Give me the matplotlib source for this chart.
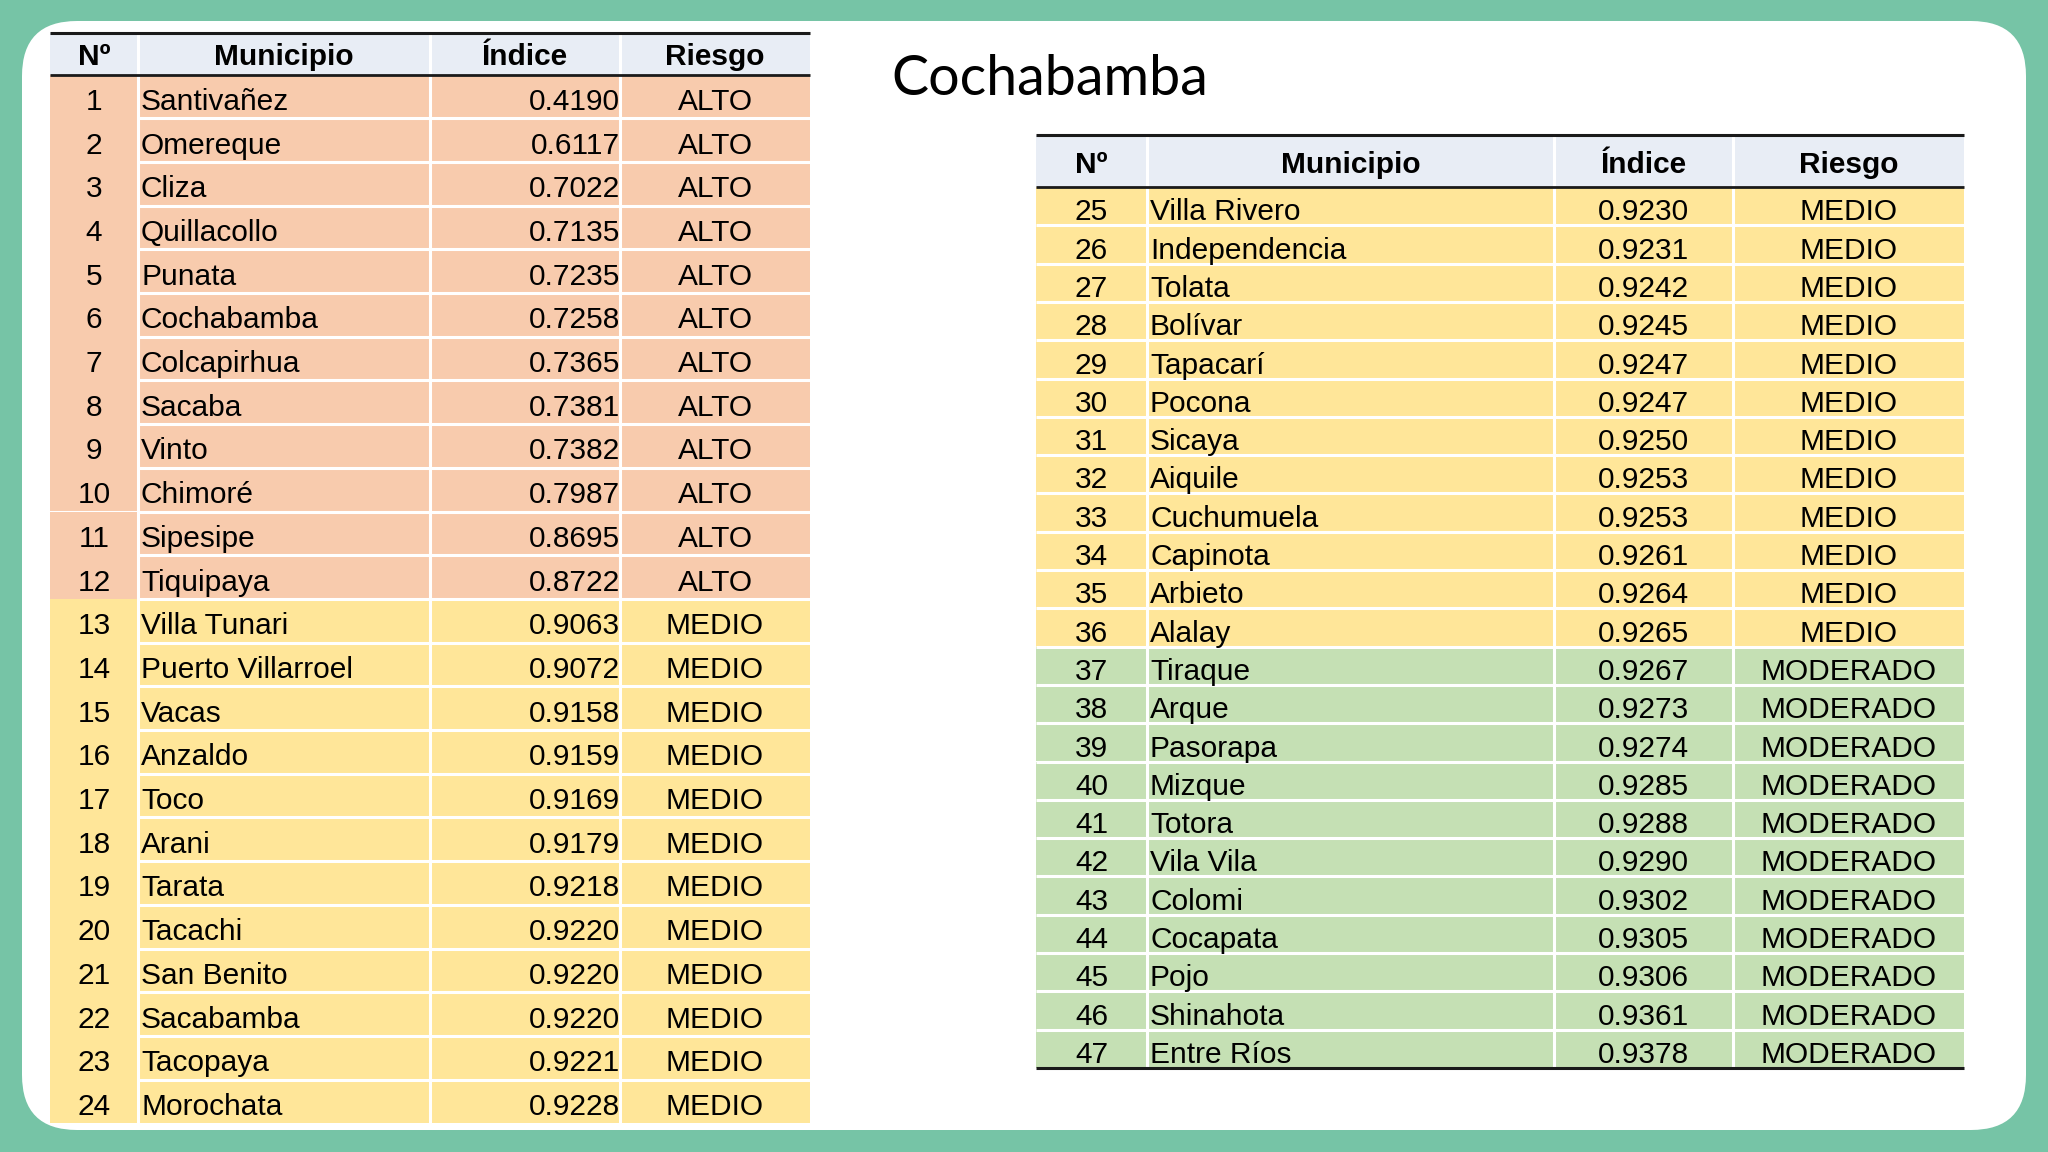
import matplotlib
matplotlib.use("Agg")
import matplotlib.pyplot as plt
from matplotlib.patches import Rectangle, FancyBboxPatch

# ---------------- data ----------------
numeros = list(range(1, 48))
municipios = [
    "Santivañez", "Omereque", "Cliza", "Quillacollo", "Punata", "Cochabamba",
    "Colcapirhua", "Sacaba", "Vinto", "Chimoré", "Sipesipe", "Tiquipaya",
    "Villa Tunari", "Puerto Villarroel", "Vacas", "Anzaldo", "Toco", "Arani",
    "Tarata", "Tacachi", "San Benito", "Sacabamba", "Tacopaya", "Morochata",
    "Villa Rivero", "Independencia", "Tolata", "Bolívar", "Tapacarí", "Pocona",
    "Sicaya", "Aiquile", "Cuchumuela", "Capinota", "Arbieto", "Alalay",
    "Tiraque", "Arque", "Pasorapa", "Mizque", "Totora", "Vila Vila",
    "Colomi", "Cocapata", "Pojo", "Shinahota", "Entre Ríos",
]
indices = [
    0.4190, 0.6117, 0.7022, 0.7135, 0.7235, 0.7258, 0.7365, 0.7381, 0.7382,
    0.7987, 0.8695, 0.8722, 0.9063, 0.9072, 0.9158, 0.9159, 0.9169, 0.9179,
    0.9218, 0.9220, 0.9220, 0.9220, 0.9221, 0.9228,
    0.9230, 0.9231, 0.9242, 0.9245, 0.9247, 0.9247, 0.9250, 0.9253, 0.9253,
    0.9261, 0.9264, 0.9265, 0.9267, 0.9273, 0.9274, 0.9285, 0.9288, 0.9290,
    0.9302, 0.9305, 0.9306, 0.9361, 0.9378,
]
riesgos = ["ALTO"] * 12 + ["MEDIO"] * 24 + ["MODERADO"] * 11
encabezados = ["Nº", "Municipio", "Índice", "Riesgo"]
titulo = "Cochabamba"

# ---------------- style ----------------
BG = "#76C4A6"
HEADER_BG = "#E8EDF5"
RISK_COLORS = {"ALTO": "#F8CBAD", "MEDIO": "#FFE699", "MODERADO": "#C5E0B4"}
FONT = ["Liberation Sans", "DejaVu Sans"]
FS = 21.5

W, H = 2048, 1152
fig = plt.figure(figsize=(20.48, 11.52), dpi=100)
fig.patch.set_facecolor(BG)
ax = fig.add_axes([0, 0, 1, 1])
ax.set_xlim(0, W)
ax.set_ylim(H, 0)
ax.axis("off")

ax.add_patch(FancyBboxPatch((22, 21), 2004, 1109,
                            boxstyle="round,pad=0,rounding_size=55",
                            fc="white", ec="none", zorder=0))


def draw_table(rows, xe, y0, hh, rh, idx_mode, num_sep_full, bottom_line,
               hdr_base, row_base):
    # header
    ax.add_patch(Rectangle((xe[0], y0), xe[-1] - xe[0], hh, fc=HEADER_BG,
                           ec="none", zorder=1))
    hx = [(xe[i] + xe[i + 1]) / 2 for i in range(4)]
    for i, t in enumerate(encabezados):
        ax.text(hx[i], y0 + hdr_base * hh, t, ha="center", va="baseline",
                fontsize=FS, fontweight="bold", family=FONT, zorder=5)
    top = y0 + hh
    for k, r in enumerate(rows):
        yt = top + k * rh
        ax.add_patch(Rectangle((xe[0], yt), xe[-1] - xe[0], rh,
                               fc=RISK_COLORS[riesgos[r]], ec="none", zorder=1))
        yb = yt + row_base * rh
        ax.text(hx[0], yb, str(numeros[r]), ha="center", va="baseline",
                fontsize=FS, family=FONT, zorder=5)
        ax.text(xe[1] + 3, yb, municipios[r], ha="left", va="baseline",
                fontsize=FS, family=FONT, zorder=5)
        s = f"{indices[r]:.4f}"
        if idx_mode == "right":
            ax.text(xe[3], yb, s, ha="right", va="baseline",
                    fontsize=FS, family=FONT, zorder=5)
        else:
            ax.text(hx[2], yb, s, ha="center", va="baseline",
                    fontsize=FS, family=FONT, zorder=5)
        ax.text(hx[3], yb, riesgos[r], ha="center", va="baseline",
                fontsize=FS, family=FONT, zorder=5)
        if k > 0:
            xs = xe[0] if num_sep_full else xe[1]
            ax.plot([xs, xe[-1]], [yt, yt], color="white", lw=2.2, zorder=2,
                    solid_capstyle="butt")
    yend = top + len(rows) * rh
    for x in xe[1:-1]:
        ax.plot([x, x], [y0, yend], color="white", lw=2.2, zorder=2)
    ax.plot([xe[0], xe[-1]], [y0, y0], color="#1a1a1a", lw=2.2, zorder=3,
            solid_capstyle="butt")
    ax.plot([xe[0], xe[-1]], [top, top], color="#1a1a1a", lw=2.0, zorder=3,
            solid_capstyle="butt")
    if bottom_line:
        ax.plot([xe[0], xe[-1]], [yend, yend], color="#1a1a1a", lw=2.2,
                zorder=3, solid_capstyle="butt")


left_rows = list(range(0, 24))
right_rows = list(range(24, 47))

draw_table(left_rows, [50, 138, 430, 620, 810], 33, 41.5, 43.7,
           "right", False, False, 0.76, 0.81)
draw_table(right_rows, [1036, 1147, 1554, 1733, 1964], 134.5, 52.5, 38.3,
           "center", True, True, 0.73, 0.87)

ax.text(891, 95, titulo, ha="left", va="baseline", fontsize=40,
        family=["Lato", "DejaVu Sans"], zorder=5)

fig.savefig("out.png", dpi=100, facecolor=BG)
